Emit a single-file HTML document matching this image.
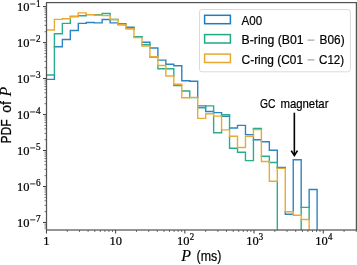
<!DOCTYPE html>
<html><head><meta charset="utf-8"><style>
html,body{margin:0;padding:0;background:#fff;}
body{width:357px;height:265px;overflow:hidden;position:relative;}
svg{position:absolute;left:0;top:0;display:block;will-change:transform;}
text{stroke:#000;stroke-width:0.22px;}
</style></head><body>
<svg width="357" height="265" viewBox="0 0 357 265">
<defs><clipPath id="ax"><rect x="46.50" y="2.60" width="309.90" height="227.40"/></clipPath></defs>
<g clip-path="url(#ax)" fill="none" stroke-width="1.40" stroke-linecap="square">
<path d="M54.40 75.00V79.40M62.36 39.50V46.80M70.32 30.50V39.50M78.28 23.40V30.50M86.25 22.50V23.40M94.21 22.50V22.90M102.17 19.50V22.90M110.13 19.50V22.90M134.01 27.30V28.50M149.93 42.20V44.70M157.89 48.00V56.70M165.86 60.10V64.20M173.82 64.20V65.80M181.78 65.80V80.80M189.74 80.80V81.30M197.70 81.30V97.40M205.66 107.80V111.50M221.58 112.60V114.60M237.50 125.40V128.00M245.47 125.40V134.60M269.35 141.80V150.30M277.31 150.30V162.50M285.27 167.50V168.40M285.27 211.70V214.20M293.23 159.80V211.70M301.19 159.80V207.40M309.15 189.50V207.40M317.11 189.50V240.00M46.44 79.40H54.40M54.40 46.80H62.36M62.36 39.50H70.32M70.32 30.50H78.28M78.28 23.40H86.25M86.25 22.50H94.21M94.21 22.90H102.17M102.17 19.50H110.13M110.13 22.90H118.09M118.09 24.60H126.05M126.05 27.30H134.01M134.01 36.80H141.97M141.97 42.20H149.93M149.93 48.00H157.89M157.89 60.10H165.86M165.86 64.20H173.82M173.82 65.80H181.78M181.78 80.80H189.74M189.74 81.30H197.70M197.70 105.90H205.66M205.66 111.50H213.62M213.62 112.60H221.58M221.58 116.30H229.54M229.54 128.00H237.50M237.50 125.40H245.47M245.47 134.60H253.43M253.43 139.80H261.39M261.39 141.80H269.35M269.35 150.30H277.31M277.31 167.50H285.27M285.27 214.20H293.23M293.23 159.80H301.19M309.15 189.50H317.11" stroke="#2d84c3"/>
<path d="M54.40 33.80V75.00M62.36 23.40V33.80M70.32 18.80V23.40M86.25 14.60V15.80M102.17 13.50V14.60M110.13 13.50V15.60M126.05 23.70V24.70M134.01 28.50V28.80M141.97 36.80V37.60M149.93 44.70V46.00M149.93 56.70V57.00M157.89 65.50V68.80M173.82 68.80V76.00M173.82 84.20V85.60M189.74 91.00V97.40M205.66 105.90V107.80M213.62 105.90V113.80M213.62 116.10V132.70M221.58 114.60V116.10M221.58 129.90V132.70M229.54 114.60V129.90M229.54 136.30V148.20M237.50 148.20V152.30M245.47 152.30V160.60M253.43 128.50V129.60M253.43 136.20V160.60M261.39 128.50V129.60M269.35 156.30V161.50M277.31 162.50V168.40M277.31 181.20V240.00M301.19 207.40V215.30M301.19 219.50V240.00M309.15 207.40V219.50M46.44 75.00H54.40M54.40 33.80H62.36M62.36 23.40H70.32M70.32 16.50H78.28M78.28 15.80H86.25M86.25 14.60H94.21M94.21 14.60H102.17M102.17 13.50H110.13M110.13 19.50H118.09M118.09 23.70H126.05M126.05 28.50H134.01M134.01 36.80H141.97M141.97 44.70H149.93M149.93 57.00H157.89M157.89 68.80H165.86M165.86 68.80H173.82M173.82 85.60H181.78M181.78 91.00H189.74M189.74 97.60H197.70M197.70 107.80H205.66M205.66 105.90H213.62M213.62 132.70H221.58M221.58 114.60H229.54M229.54 148.20H237.50M237.50 152.30H245.47M245.47 160.60H253.43M253.43 128.50H261.39M261.39 156.30H269.35M269.35 162.50H277.31M301.19 207.40H309.15" stroke="#2aad8b"/>
<path d="M54.40 19.40V30.00M62.36 18.80V19.40M70.32 16.50V18.80M78.28 12.90V16.50M86.25 12.90V14.60M94.21 14.60V15.20M102.17 15.20V15.60M110.13 15.60V19.50M118.09 19.50V24.70M126.05 24.70V28.80M134.01 28.80V37.60M141.97 37.60V46.00M149.93 46.00V56.70M157.89 56.70V65.50M165.86 65.50V76.00M173.82 76.00V84.20M181.78 84.20V97.70M189.74 97.40V97.70M197.70 97.40V118.40M205.66 113.80V118.40M213.62 113.80V116.10M221.58 116.10V129.90M229.54 129.90V136.30M237.50 136.30V147.50M245.47 136.20V147.50M253.43 129.60V136.20M261.39 129.60V161.50M269.35 161.50V181.20M277.31 168.40V181.20M285.27 168.40V211.70M293.23 211.70V215.30M301.19 215.30V219.50M309.15 219.50V240.00M46.44 30.00H54.40M54.40 19.40H62.36M62.36 18.80H70.32M70.32 16.50H78.28M78.28 12.90H86.25M86.25 14.60H94.21M94.21 15.20H102.17M102.17 15.60H110.13M110.13 19.50H118.09M118.09 24.70H126.05M126.05 28.80H134.01M134.01 37.60H141.97M141.97 46.00H149.93M149.93 56.70H157.89M157.89 65.50H165.86M165.86 76.00H173.82M173.82 84.20H181.78M181.78 97.70H189.74M189.74 97.40H197.70M197.70 118.40H205.66M205.66 113.80H213.62M213.62 116.10H221.58M221.58 129.90H229.54M229.54 136.30H237.50M237.50 147.50H245.47M245.47 136.20H253.43M253.43 129.60H261.39M261.39 161.50H269.35M269.35 181.20H277.31M277.31 168.40H285.27M285.27 211.70H293.23M293.23 215.30H301.19M301.19 219.50H309.15" stroke="#e9aa35"/>
</g>
<path d="M43.00 222.48H46.50M43.00 186.50H46.50M43.00 150.52H46.50M43.00 114.54H46.50M43.00 78.56H46.50M43.00 42.58H46.50M43.00 6.60H46.50M46.44 230.00V233.50M115.64 230.00V233.50M184.84 230.00V233.50M254.04 230.00V233.50M323.24 230.00V233.50" stroke="#222" stroke-width="0.9" fill="none"/>
<path d="M44.50 228.05H46.50M44.50 225.97H46.50M44.50 224.13H46.50M44.50 211.65H46.50M44.50 205.31H46.50M44.50 200.82H46.50M44.50 197.33H46.50M44.50 194.48H46.50M44.50 192.07H46.50M44.50 189.99H46.50M44.50 188.15H46.50M44.50 175.67H46.50M44.50 169.33H46.50M44.50 164.84H46.50M44.50 161.35H46.50M44.50 158.50H46.50M44.50 156.09H46.50M44.50 154.01H46.50M44.50 152.17H46.50M44.50 139.69H46.50M44.50 133.35H46.50M44.50 128.86H46.50M44.50 125.37H46.50M44.50 122.52H46.50M44.50 120.11H46.50M44.50 118.03H46.50M44.50 116.19H46.50M44.50 103.71H46.50M44.50 97.37H46.50M44.50 92.88H46.50M44.50 89.39H46.50M44.50 86.54H46.50M44.50 84.13H46.50M44.50 82.05H46.50M44.50 80.21H46.50M44.50 67.73H46.50M44.50 61.39H46.50M44.50 56.90H46.50M44.50 53.41H46.50M44.50 50.56H46.50M44.50 48.15H46.50M44.50 46.07H46.50M44.50 44.23H46.50M44.50 31.75H46.50M44.50 25.41H46.50M44.50 20.92H46.50M44.50 17.43H46.50M44.50 14.58H46.50M44.50 12.17H46.50M44.50 10.09H46.50M44.50 8.25H46.50M67.27 230.00V232.00M79.46 230.00V232.00M88.10 230.00V232.00M94.81 230.00V232.00M100.29 230.00V232.00M104.92 230.00V232.00M108.93 230.00V232.00M112.47 230.00V232.00M136.47 230.00V232.00M148.66 230.00V232.00M157.30 230.00V232.00M164.01 230.00V232.00M169.49 230.00V232.00M174.12 230.00V232.00M178.13 230.00V232.00M181.67 230.00V232.00M205.67 230.00V232.00M217.86 230.00V232.00M226.50 230.00V232.00M233.21 230.00V232.00M238.69 230.00V232.00M243.32 230.00V232.00M247.33 230.00V232.00M250.87 230.00V232.00M274.87 230.00V232.00M287.06 230.00V232.00M295.70 230.00V232.00M302.41 230.00V232.00M307.89 230.00V232.00M312.52 230.00V232.00M316.53 230.00V232.00M320.07 230.00V232.00M344.07 230.00V232.00M356.26 230.00V232.00" stroke="#333" stroke-width="0.7" fill="none"/>
<rect x="46.50" y="2.60" width="309.90" height="227.40" fill="none" stroke="#555" stroke-width="1.25"/>
<text transform="translate(29.40 11.30) scale(1 1.07)" font-family='"Liberation Serif", serif' font-size="12.5" text-anchor="end">10</text>
<path d="M30.1 4.00H35.3" stroke="#111" stroke-width="0.9"/>
<text transform="translate(36.00 6.50) scale(1 1.07)" font-family='"Liberation Serif", serif' font-size="9.2" text-anchor="start">1</text>
<text transform="translate(29.40 47.28) scale(1 1.07)" font-family='"Liberation Serif", serif' font-size="12.5" text-anchor="end">10</text>
<path d="M30.1 39.98H35.3" stroke="#111" stroke-width="0.9"/>
<text transform="translate(36.00 42.48) scale(1 1.07)" font-family='"Liberation Serif", serif' font-size="9.2" text-anchor="start">2</text>
<text transform="translate(29.40 83.26) scale(1 1.07)" font-family='"Liberation Serif", serif' font-size="12.5" text-anchor="end">10</text>
<path d="M30.1 75.96H35.3" stroke="#111" stroke-width="0.9"/>
<text transform="translate(36.00 78.46) scale(1 1.07)" font-family='"Liberation Serif", serif' font-size="9.2" text-anchor="start">3</text>
<text transform="translate(29.40 119.24) scale(1 1.07)" font-family='"Liberation Serif", serif' font-size="12.5" text-anchor="end">10</text>
<path d="M30.1 111.94H35.3" stroke="#111" stroke-width="0.9"/>
<text transform="translate(36.00 114.44) scale(1 1.07)" font-family='"Liberation Serif", serif' font-size="9.2" text-anchor="start">4</text>
<text transform="translate(29.40 155.22) scale(1 1.07)" font-family='"Liberation Serif", serif' font-size="12.5" text-anchor="end">10</text>
<path d="M30.1 147.92H35.3" stroke="#111" stroke-width="0.9"/>
<text transform="translate(36.00 150.42) scale(1 1.07)" font-family='"Liberation Serif", serif' font-size="9.2" text-anchor="start">5</text>
<text transform="translate(29.40 191.20) scale(1 1.07)" font-family='"Liberation Serif", serif' font-size="12.5" text-anchor="end">10</text>
<path d="M30.1 183.90H35.3" stroke="#111" stroke-width="0.9"/>
<text transform="translate(36.00 186.40) scale(1 1.07)" font-family='"Liberation Serif", serif' font-size="9.2" text-anchor="start">6</text>
<text transform="translate(29.40 227.18) scale(1 1.07)" font-family='"Liberation Serif", serif' font-size="12.5" text-anchor="end">10</text>
<path d="M30.1 219.88H35.3" stroke="#111" stroke-width="0.9"/>
<text transform="translate(36.00 222.38) scale(1 1.07)" font-family='"Liberation Serif", serif' font-size="9.2" text-anchor="start">7</text>
<text transform="translate(46.44 244.90) scale(1 1.07)" font-family='"Liberation Serif", serif' font-size="12.5" text-anchor="middle">1</text>
<text transform="translate(115.64 244.90) scale(1 1.07)" font-family='"Liberation Serif", serif' font-size="12.5" text-anchor="middle">10</text>
<text transform="translate(189.44 244.90) scale(1 1.07)" font-family='"Liberation Serif", serif' font-size="12.5" text-anchor="end">10</text>
<text transform="translate(189.64 239.60) scale(1 1.07)" font-family='"Liberation Serif", serif' font-size="8.8" text-anchor="start">2</text>
<text transform="translate(258.64 244.90) scale(1 1.07)" font-family='"Liberation Serif", serif' font-size="12.5" text-anchor="end">10</text>
<text transform="translate(258.84 239.60) scale(1 1.07)" font-family='"Liberation Serif", serif' font-size="8.8" text-anchor="start">3</text>
<text transform="translate(327.84 244.90) scale(1 1.07)" font-family='"Liberation Serif", serif' font-size="12.5" text-anchor="end">10</text>
<text transform="translate(328.04 239.60) scale(1 1.07)" font-family='"Liberation Serif", serif' font-size="8.8" text-anchor="start">4</text>
<text x="181.3" y="261.4" font-family='"Liberation Serif", serif' font-size="16" font-style="italic" style="stroke-width:0.12px">P</text>
<text x="196.5" y="261.4" font-family='"Liberation Sans", sans-serif' font-size="14" textLength="24.8" lengthAdjust="spacingAndGlyphs">(ms)</text>
<g transform="translate(10.9 143.6) rotate(-90)"><text x="0" y="0" font-family='"Liberation Sans", sans-serif' font-size="15" textLength="24.4" lengthAdjust="spacingAndGlyphs">PDF</text><text x="30.9" y="0" font-family='"Liberation Sans", sans-serif' font-size="15" textLength="11.6" lengthAdjust="spacingAndGlyphs">of</text><text x="47.2" y="0" font-family='"Liberation Serif", serif' font-size="16" font-style="italic" style="stroke-width:0.05px">P</text></g>
<rect x="199.5" y="9.5" width="150.9" height="62.3" rx="2.5" fill="#fff" fill-opacity="0.8" stroke="#d6d6d6" stroke-width="0.9"/>
<rect x="204.6" y="15.30" width="25.8" height="8.4" fill="none" stroke="#1f7dbf" stroke-width="1.5"/>
<text x="241.60" y="24.90" font-family='"Liberation Sans", sans-serif' font-size="13.2" textLength="20.6" lengthAdjust="spacingAndGlyphs">A00</text>
<rect x="204.6" y="34.60" width="25.8" height="8.4" fill="none" stroke="#22a882" stroke-width="1.5"/>
<text x="241.60" y="44.20" font-family='"Liberation Sans", sans-serif' font-size="13.2" textLength="62.0" lengthAdjust="spacingAndGlyphs">B-ring (B01</text>
<text x="319.60" y="44.20" font-family='"Liberation Sans", sans-serif' font-size="13.2" textLength="25.0" lengthAdjust="spacingAndGlyphs">B06)</text>
<path d="M307.6 40.10H314.4" stroke="#777" stroke-width="0.8"/>
<rect x="204.6" y="54.10" width="25.8" height="8.4" fill="none" stroke="#e7a731" stroke-width="1.5"/>
<text x="241.60" y="63.70" font-family='"Liberation Sans", sans-serif' font-size="13.2" textLength="61.5" lengthAdjust="spacingAndGlyphs">C-ring (C01</text>
<text x="319.10" y="63.70" font-family='"Liberation Sans", sans-serif' font-size="13.2" textLength="25.0" lengthAdjust="spacingAndGlyphs">C12)</text>
<path d="M307.6 59.90H314.4" stroke="#777" stroke-width="0.8"/>
<text x="260.0" y="107.8" font-family='"Liberation Sans", sans-serif' font-size="13.2" textLength="15.5" lengthAdjust="spacingAndGlyphs">GC</text>
<text x="280.4" y="107.7" font-family='"Liberation Sans", sans-serif' font-size="13.2" textLength="48.1" lengthAdjust="spacingAndGlyphs">magnetar</text>
<path d="M294.35 112.7V155.2" stroke="#000" stroke-width="1.6" fill="none"/>
<path d="M291.2 150.6L294.35 155.4L297.5 150.6" stroke="#000" stroke-width="1.7" fill="none" stroke-linejoin="miter" stroke-miterlimit="10"/>
</svg>
</body></html>
